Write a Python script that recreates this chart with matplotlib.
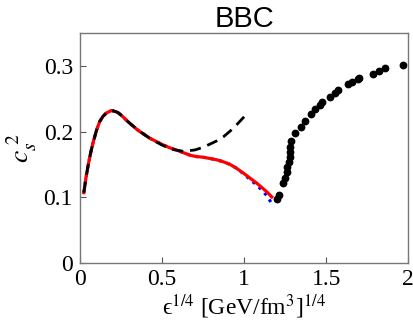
import matplotlib
matplotlib.use('Agg')
import matplotlib.pyplot as plt

plt.rcParams['mathtext.fontset'] = 'stix'

# red solid curve (also followed by dashed and blue curves at low energy)
red_x = [0.024, 0.036, 0.049, 0.064, 0.079, 0.100, 0.120, 0.140, 0.160, 0.191, 0.210, 0.232,
         0.260, 0.293, 0.354, 0.425, 0.496, 0.550, 0.598, 0.671, 0.709, 0.750, 0.793, 0.835,
         0.874, 0.915, 0.955, 0.995, 1.037, 1.075, 1.108, 1.140, 1.169]
red_y = [0.107, 0.128, 0.147, 0.166, 0.182, 0.201, 0.215, 0.223, 0.228, 0.232, 0.231, 0.229,
         0.223, 0.215, 0.202, 0.190, 0.181, 0.175, 0.171, 0.164, 0.162, 0.161, 0.159, 0.157,
         0.154, 0.150, 0.144, 0.137, 0.129, 0.122, 0.115, 0.108, 0.1005]

# blue dotted curve (hidden under red except at the end)
blue_x = [0.024, 0.036, 0.049, 0.064, 0.079, 0.100, 0.120, 0.140, 0.160, 0.191, 0.210, 0.232,
          0.260, 0.293, 0.354, 0.425, 0.496, 0.550, 0.598, 0.671, 0.709, 0.750, 0.793, 0.835,
          0.874, 0.915, 0.955, 0.995, 1.037, 1.075, 1.108, 1.140, 1.165]
blue_y = [0.107, 0.128, 0.147, 0.166, 0.182, 0.201, 0.215, 0.223, 0.228, 0.232, 0.231, 0.229,
          0.223, 0.215, 0.202, 0.190, 0.181, 0.175, 0.171, 0.164, 0.162, 0.161, 0.159, 0.157,
          0.154, 0.150, 0.144, 0.136, 0.127, 0.119, 0.111, 0.102, 0.092]

# black dashed curve
dash_x = [0.024, 0.036, 0.049, 0.064, 0.079, 0.100, 0.120, 0.140, 0.160, 0.191, 0.210, 0.232,
          0.260, 0.293, 0.354, 0.425, 0.496, 0.560, 0.630, 0.700, 0.750, 0.793, 0.835, 0.874,
          0.935, 1.006]
dash_y = [0.107, 0.128, 0.147, 0.166, 0.182, 0.201, 0.215, 0.223, 0.228, 0.232, 0.231, 0.229,
          0.223, 0.215, 0.202, 0.190, 0.180, 0.173, 0.170, 0.172, 0.176, 0.181, 0.186, 0.192,
          0.205, 0.224]

# black dots (lattice data)
dot_x = [1.199, 1.215, 1.236, 1.250, 1.264, 1.264, 1.276, 1.280, 1.280, 1.280, 1.283,
         1.313, 1.348, 1.374, 1.407, 1.435, 1.463, 1.476, 1.524, 1.551, 1.571, 1.636,
         1.657, 1.693, 1.701, 1.785, 1.825, 1.860, 1.967]
dot_y = [0.097, 0.103, 0.121, 0.130, 0.139, 0.146, 0.154, 0.162, 0.169, 0.177, 0.185,
         0.198, 0.207, 0.216, 0.226, 0.234, 0.241, 0.245, 0.253, 0.259, 0.263, 0.272,
         0.276, 0.280, 0.281, 0.288, 0.292, 0.296, 0.302]

serif = ['Liberation Serif', 'DejaVu Serif']

fig = plt.figure(figsize=(4.14, 3.3), dpi=100)
ax = fig.add_axes([0.193, 0.203, 0.793, 0.697])

ax.plot(blue_x, blue_y, color='blue', linestyle=':', linewidth=2.2)
ax.plot(red_x, red_y, color='red', linewidth=2.3)
ax.plot(dash_x, dash_y, color='black', linestyle=(0, (4, 2.5)), linewidth=2.0)
ax.plot(dot_x, dot_y, 'o', color='black', markersize=4.6)

ax.set_xlim(0, 2)
ax.set_ylim(0, 0.35)
ax.set_xticks([0, 0.5, 1, 1.5, 2])
ax.set_xticklabels(['0', '0.5', '1', '1.5', '2'], family=serif, fontsize=17)
ax.set_yticks([0, 0.1, 0.2, 0.3])
ax.set_yticklabels(['0', '0.1', '0.2', '0.3'], family=serif, fontsize=17)
ax.tick_params(direction='in', length=4, color='#555555', width=0.8)
ax.tick_params(axis='x', pad=4)
ax.tick_params(axis='y', pad=5)

for s in ax.spines.values():
    s.set_color('#777777')
    s.set_linewidth(1.0)

ax.set_xlabel('\u03f5$^{1/4}$ [GeV/fm$^3$]$^{1/4}$', family=serif, fontsize=17, labelpad=2)
ax.set_ylabel(r'$c_s^{\ 2}$', family=serif, fontsize=20, labelpad=3)
ax.set_title('BBC', family=['Liberation Sans', 'DejaVu Sans'], fontsize=21, pad=1)

fig.savefig('out.png', dpi=100)
